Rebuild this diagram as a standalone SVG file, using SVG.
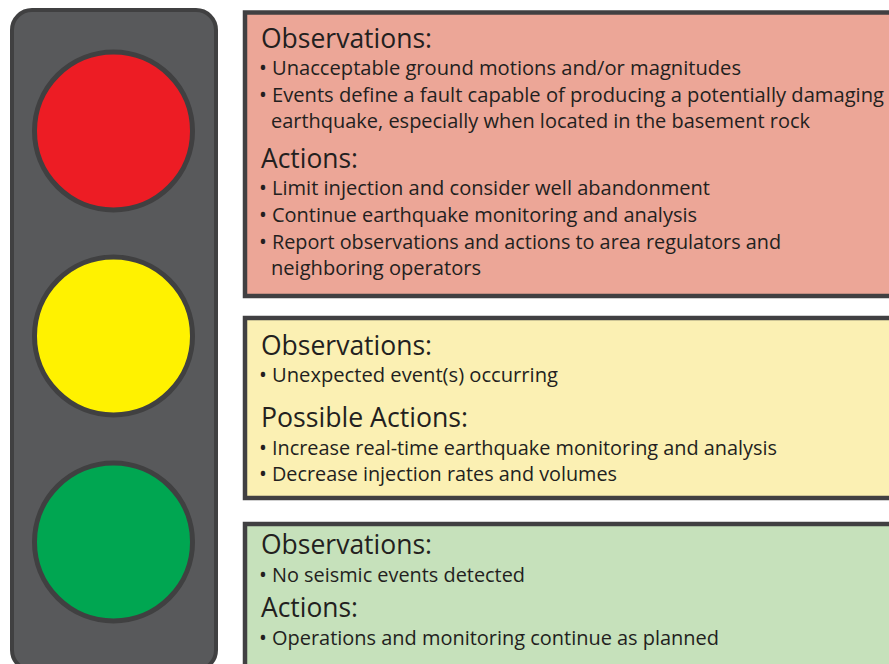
<svg xmlns="http://www.w3.org/2000/svg" width="889" height="664" viewBox="0 0 889 664">
<style>
.h{font-family:"Open Sans","Liberation Sans",sans-serif;font-size:26.5px;fill:#231f20}
.b{font-family:"Open Sans","Liberation Sans",sans-serif;font-size:19.5px;fill:#231f20}
.d{font-size:21px}
.box{stroke:#414042;stroke-width:4.5}
.lamp{stroke:#404041;stroke-width:5}
</style>
<rect width="889" height="664" fill="#ffffff"/>
<g id="signal">
<rect x="12" y="10" width="204" height="660" rx="20" ry="20" fill="#58595b" stroke="#404041" stroke-width="4"/>
</g>
<g id="red-light"><circle cx="113.5" cy="131" r="79" fill="#ed1c24" class="lamp"/></g>
<g id="yellow-light"><circle cx="113.5" cy="336" r="79" fill="#fff200" class="lamp"/></g>
<g id="green-light"><circle cx="113.5" cy="542" r="79" fill="#00a651" class="lamp"/></g>
<g id="red-box">
<rect x="245" y="12.5" width="660" height="283.5" fill="#eca697" class="box"/>
<text class="h" x="261" y="48" textLength="171" lengthAdjust="spacingAndGlyphs">Observations:</text>
<text class="b" y="75"><tspan class="d" x="259">•</tspan><tspan x="272" textLength="469" lengthAdjust="spacingAndGlyphs">Unacceptable ground motions and/or magnitudes</tspan></text>
<text class="b" y="102"><tspan class="d" x="259">•</tspan><tspan x="272" textLength="612" lengthAdjust="spacingAndGlyphs">Events define a fault capable of producing a potentially damaging</tspan></text>
<text class="b" x="271" y="128" textLength="539" lengthAdjust="spacingAndGlyphs">earthquake, especially when located in the basement rock</text>
<text class="h" x="261" y="168" textLength="97" lengthAdjust="spacingAndGlyphs">Actions:</text>
<text class="b" y="195"><tspan class="d" x="259">•</tspan><tspan x="272" textLength="438" lengthAdjust="spacingAndGlyphs">Limit injection and consider well abandonment</tspan></text>
<text class="b" y="222"><tspan class="d" x="259">•</tspan><tspan x="272" textLength="425" lengthAdjust="spacingAndGlyphs">Continue earthquake monitoring and analysis</tspan></text>
<text class="b" y="249"><tspan class="d" x="259">•</tspan><tspan x="272" textLength="509" lengthAdjust="spacingAndGlyphs">Report observations and actions to area regulators and</tspan></text>
<text class="b" x="271" y="275" textLength="210" lengthAdjust="spacingAndGlyphs">neighboring operators</text>
</g>
<g id="yellow-box">
<rect x="245" y="318" width="660" height="180" fill="#fbf0b3" class="box"/>
<text class="h" x="261" y="355" textLength="171" lengthAdjust="spacingAndGlyphs">Observations:</text>
<text class="b" y="382"><tspan class="d" x="259">•</tspan><tspan x="272" textLength="286" lengthAdjust="spacingAndGlyphs">Unexpected event(s) occurring</tspan></text>
<text class="h" x="261" y="427" textLength="207" lengthAdjust="spacingAndGlyphs">Possible Actions:</text>
<text class="b" y="455"><tspan class="d" x="259">•</tspan><tspan x="272" textLength="505" lengthAdjust="spacingAndGlyphs">Increase real-time earthquake monitoring and analysis</tspan></text>
<text class="b" y="481"><tspan class="d" x="259">•</tspan><tspan x="272" textLength="345" lengthAdjust="spacingAndGlyphs">Decrease injection rates and volumes</tspan></text>
</g>
<g id="green-box">
<rect x="245" y="524" width="660" height="160" fill="#c6e1bb" class="box"/>
<text class="h" x="261" y="554" textLength="171" lengthAdjust="spacingAndGlyphs">Observations:</text>
<text class="b" y="582"><tspan class="d" x="259">•</tspan><tspan x="272" textLength="253" lengthAdjust="spacingAndGlyphs">No seismic events detected</tspan></text>
<text class="h" x="261" y="617" textLength="97" lengthAdjust="spacingAndGlyphs">Actions:</text>
<text class="b" y="645"><tspan class="d" x="259">•</tspan><tspan x="272" textLength="447" lengthAdjust="spacingAndGlyphs">Operations and monitoring continue as planned</tspan></text>
</g>
<g id="connectors"/>
</svg>
